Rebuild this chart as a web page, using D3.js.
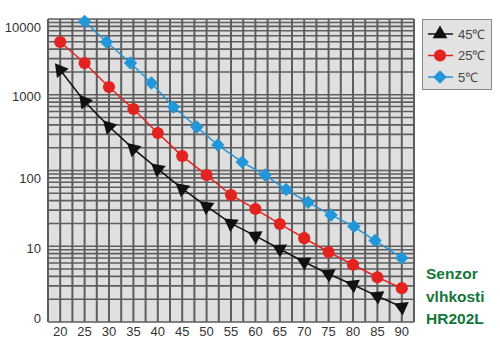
<!DOCTYPE html>
<html lang="cs">
<head>
    <meta charset="UTF-8">
    <title>HR202L</title>
    <script src="https://d3js.org/d3.v7.min.js"></script>
    <style>
        body { margin: 0; background: #fff; }
        text { font-family: "Liberation Sans", Arial, sans-serif; }
    </style>
</head>
<body>
    <svg width="500" height="353"></svg>

    <script>
        // relativni vlhkost (%)
        const humidity = [20, 25, 30, 35, 40, 45, 50, 55, 60, 65, 70, 75, 80, 85, 90];
        // odpor (kOhm) pro jednotlive teploty
        const r45 = [2120, 815, 381, 193, 105, 57.5, 33.6, 20, 13.7, 9.2, 6.2, 4.3, 3.1, 2.2, 1.58];
        const r25 = [4970, 2625, 1266, 649, 313, 155, 87, 47.5, 31, 19.7, 12.8, 8.4, 5.7, 3.9, 2.8];
        // modra krivka ma v obrazku 15 bodu mezi 25 a 90
        const x5 = [25, 29.5, 34.4, 38.7, 43.2, 48, 52.3, 57.3, 62, 66.3, 70.8, 75.5, 80.2, 84.5, 90];
        const r5 = [9300, 4970, 2625, 1429, 689, 375, 217, 129, 87, 56, 38, 25.9, 18.2, 11.9, 7.0];

        const xTicks = [20, 25, 30, 35, 40, 45, 50, 55, 60, 65, 70, 75, 80, 85, 90];
        const yTicks = [10000, 1000, 100, 10, 1];
        const yTickLabels = ["10000", "1000", "100", "10", "0"];
        const legendLabels = ["45℃", "25℃", "5℃"];
        const noteLines = ["Senzor", "vlhkosti", "HR202L"];

        const svg = d3.select("svg");

        const x = d3.scaleLinear().domain([17.5, 92.5]).range([48, 414]);
        const y = d3.scaleLog().domain([1, 10000]).range([322, 19]);

        const gridColor = "#5e5e5e";

        // pozadi grafu
        svg.append("rect")
            .attr("x", x(17.5)).attr("y", y(10000))
            .attr("width", x(92.5) - x(17.5))
            .attr("height", y(1) - y(10000))
            .attr("fill", "#dfdfdf");

        // svisla mrizka po 2.5
        const vLines = d3.range(17.5, 92.6, 2.5);
        svg.append("g").selectAll("line")
            .data(vLines)
            .enter().append("line")
            .attr("x1", d => x(d)).attr("x2", d => x(d))
            .attr("y1", y(10000)).attr("y2", y(1))
            .attr("stroke", gridColor)
            .attr("stroke-width", 2);

        // vodorovna logaritmicka mrizka
        const hLines = [];
        for (let e = 0; e < 4; e++) {
            for (let m = 1; m < 10; m++) hLines.push(m * Math.pow(10, e));
        }
        hLines.push(10000);
        svg.append("g").selectAll("line")
            .data(hLines)
            .enter().append("line")
            .attr("x1", x(17.5)).attr("x2", x(92.5))
            .attr("y1", d => y(d)).attr("y2", d => y(d))
            .attr("stroke", gridColor)
            .attr("stroke-width", 1.6);

        // popisky os (v originale jsou trochu posunute)
        const yLabelShift = [8, 2, 8, 2, -4];
        svg.append("g").selectAll("text")
            .data(yTicks)
            .enter().append("text")
            .attr("x", 41)
            .attr("y", (d, i) => y(d) + yLabelShift[i])
            .attr("dy", "0.35em")
            .attr("text-anchor", "end")
            .attr("font-size", 13)
            .attr("fill", "#333")
            .text((d, i) => yTickLabels[i]);

        svg.append("g").selectAll("text")
            .data(xTicks)
            .enter().append("text")
            .attr("x", d => x(d))
            .attr("y", 336)
            .attr("text-anchor", "middle")
            .attr("font-size", 13)
            .attr("fill", "#333")
            .text(d => d);

        const line = d3.line().x(d => x(d[0])).y(d => y(d[1]));

        const series = [
            { xs: humidity, ys: r45, color: "#111", symbol: "tri" },
            { xs: humidity, ys: r25, color: "#e3231f", symbol: "circle" },
            { xs: x5, ys: r5, color: "#2196d8", symbol: "diamond" }
        ];

        function markerPath(kind) {
            if (kind === "tri") return d3.symbol(d3.symbolTriangle, 95)();
            if (kind === "circle") return d3.symbol(d3.symbolCircle, 115)();
            return d3.symbol(d3.symbolSquare, 90)();
        }

        series.forEach(s => {
            const pts = s.xs.map((v, i) => [v, s.ys[i]]);
            svg.append("path")
                .datum(pts)
                .attr("d", line)
                .attr("fill", "none")
                .attr("stroke", s.color)
                .attr("stroke-width", 1.5);

            svg.append("g").selectAll("path")
                .data(pts)
                .enter().append("path")
                .attr("d", markerPath(s.symbol))
                .attr("fill", s.color)
                .attr("transform", (d, i) => {
                    let rot = 45;
                    if (s.symbol === "tri") {
                        // trojuhelnik miri zpet podel krivky
                        const a = i > 0 ? pts[i - 1] : pts[i];
                        const b = i > 0 ? pts[i] : pts[i + 1];
                        const ang = Math.atan2(y(a[1]) - y(b[1]), x(a[0]) - x(b[0]));
                        rot = ang * 180 / Math.PI + 90;
                    } else if (s.symbol === "circle") {
                        rot = 0;
                    }
                    return `translate(${x(d[0])},${y(d[1])}) rotate(${rot})`;
                });
        });

        // legenda
        const legend = svg.append("g");
        legend.append("rect")
            .attr("x", 422.5).attr("y", 19.5)
            .attr("width", 69).attr("height", 70)
            .attr("fill", "#e2e2e2")
            .attr("stroke", "#8a8a8a");

        const legendRows = legend.selectAll("g")
            .data(series)
            .enter().append("g")
            .attr("transform", (d, i) => `translate(440,${34 + i * 21.5})`);

        legendRows.append("line")
            .attr("x1", -12).attr("x2", 13)
            .attr("stroke", d => d.color)
            .attr("stroke-width", 1.5);

        legendRows.append("path")
            .attr("d", d => markerPath(d.symbol))
            .attr("fill", d => d.color)
            .attr("transform", d => d.symbol === "diamond" ? "rotate(45)" : null);

        legendRows.append("text")
            .attr("x", 18)
            .attr("dy", "0.35em")
            .attr("font-size", 13)
            .attr("fill", "#444")
            .text((d, i) => legendLabels[i]);

        // zelena poznamka
        svg.append("g").selectAll("text")
            .data(noteLines)
            .enter().append("text")
            .attr("x", 426)
            .attr("y", (d, i) => 279 + i * 22.5)
            .attr("font-size", 15.5)
            .attr("font-weight", "bold")
            .attr("fill", "#13773a")
            .text(d => d);
    </script>
</body>
</html>
